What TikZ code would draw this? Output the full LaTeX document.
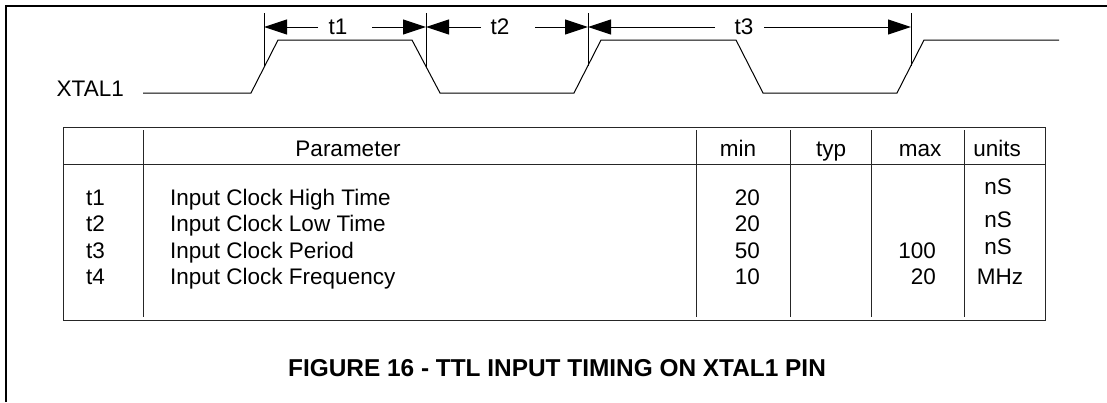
\documentclass[tikz,border=0pt]{standalone}
\usepackage{fontspec}
\setmainfont{Liberation Sans}
\usetikzlibrary{arrows.meta}
\tikzset{
  txt/.style={inner sep=0pt, font=\fontsize{22.5}{26}\selectfont},
  captext/.style={inner sep=0pt, font=\fontsize{24.4}{28}\selectfont\bfseries},
  wave/.style={line width=1pt, line join=miter},
  tickline/.style={line width=1pt},
  dimline/.style={line width=1pt, -{Triangle[length=23pt,width=15pt]}},
  gridline/.style={line width=1pt, draw=black!85},
  framerule/.style={line width=2pt}
}
\begin{document}
\begin{tikzpicture}[x=1pt,y=-1pt]
\useasboundingbox (0,0) rectangle (1107,402);
% outer frame
\draw[framerule] (6,402) -- (6,6) -- (1107,6);
% waveform
\node[txt, anchor=base east] (xtal) at (124,96) {XTAL1};
\draw[wave] (143,93) -- (251,93) -- (278,40) -- (412,40) -- (440,93) -- (574,93) -- (601,40) -- (736,40) -- (763,93) -- (897,93) -- (924,40) -- (1059,40);
% tick lines
\coordinate (a1) at (264,27); \coordinate (a2) at (426,27);
\coordinate (a3) at (588,27); \coordinate (a4) at (911,27);
\draw[tickline] (264,13) -- (264,67);
\draw[tickline] (426,13) -- (426,67);
\draw[tickline] (588,13) -- (588,66);
\draw[tickline] (911,13) -- (911,66);
% dimension labels
\node[txt] (l1) at (338,27) {t1};
\node[txt] (l2) at (500,27) {t2};
\node[txt] (l3) at (744,27) {t3};
\coordinate (l1a) at (318,27); \coordinate (l1b) at (372,27);
\coordinate (l2a) at (481,27); \coordinate (l2b) at (535,27);
\coordinate (l3a) at (715,27); \coordinate (l3b) at (764,27);
\draw[dimline] (l1a) -- (a1);
\draw[dimline] (l1b) -- (a2);
\draw[dimline] (l2a) -- (a2);
\draw[dimline] (l2b) -- (a3);
\draw[dimline] (l3a) -- (a3);
\draw[dimline] (l3b) -- (a4);
% table
\draw[gridline] (63,127) rectangle (1045,320);
\draw[gridline] (63,164) -- (1045,164);
\foreach \x in {143,696,790,871,964} \draw[gridline] (\x,130) -- (\x,317);
% header
\node[txt, anchor=base] (hpar) at (348,156) {Parameter};
\node[txt, anchor=base] (hmin) at (738,156) {min};
\node[txt, anchor=base] (htyp) at (831,156) {typ};
\node[txt, anchor=base] (hmax) at (920,156) {max};
\node[txt, anchor=base] (hunit) at (997,156) {units};
% rows
\node[txt, anchor=base west] (r1) at (86,205) {t1};
\node[txt, anchor=base west] (r2) at (86,231.5) {t2};
\node[txt, anchor=base west] (r3) at (86,258) {t3};
\node[txt, anchor=base west] (r4) at (86,284.5) {t4};
\node[txt, anchor=base west] (p1) at (170,205) {Input Clock High Time};
\node[txt, anchor=base west] (p2) at (170,231.5) {Input Clock Low Time};
\node[txt, anchor=base west] (p3) at (170,258) {Input Clock Period};
\node[txt, anchor=base west] (p4) at (170,284.5) {Input Clock Frequency};
\node[txt, anchor=base east] (m1) at (760,205) {20};
\node[txt, anchor=base east] (m2) at (760,231.5) {20};
\node[txt, anchor=base east] (m3) at (760,258) {50};
\node[txt, anchor=base east] (m4) at (760,284.5) {10};
\node[txt, anchor=base east] (x3) at (936,258) {100};
\node[txt, anchor=base east] (x4) at (936,284.5) {20};
\node[txt, anchor=base] (u1) at (998,194) {nS};
\node[txt, anchor=base] (u2) at (998,227) {nS};
\node[txt, anchor=base] (u3) at (998,254) {nS};
\node[txt, anchor=base] (u4) at (1000,284.5) {MHz};
% caption
\node[captext, anchor=base] (caption) at (557,376) {FIGURE 16 - TTL INPUT TIMING ON XTAL1 PIN};
\end{tikzpicture}
\end{document}
